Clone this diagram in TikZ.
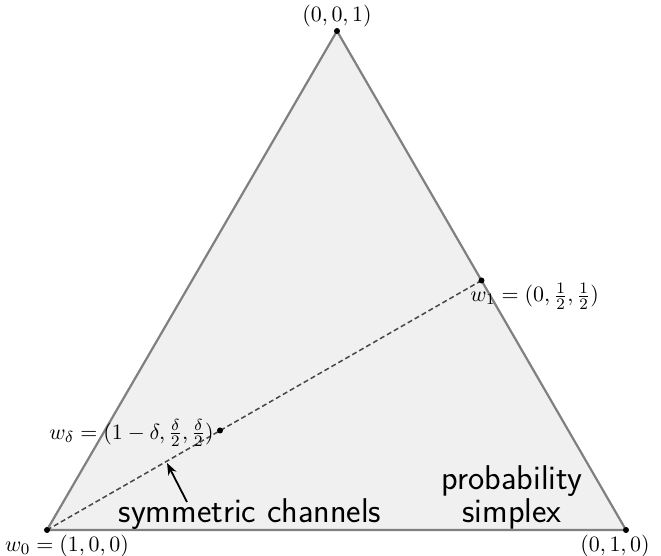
\documentclass[tikz,border=0pt]{standalone}
\usetikzlibrary{arrows.meta}
\begin{document}
\begin{tikzpicture}[x=0.5pt,y=-0.5pt,
  edge/.style={draw=black!50,line width=1.1pt},
  dot/.style={circle,fill=black,inner sep=0pt,minimum size=3pt},
  lab/.style={font=\fontsize{11}{13}\selectfont,inner sep=0pt},
  big/.style={font=\sffamily\fontsize{17.2}{13.5}\selectfont,inner sep=0pt,align=center}]
\useasboundingbox (0,0) rectangle (661,556);
\coordinate (A) at (47,530);
\coordinate (B) at (626,530);
\coordinate (C) at (337,31);
\coordinate (M) at (481.5,280.5);
\coordinate (D) at (220,430.5);
\fill[black!6] (A) -- (B) -- (C) -- cycle;
\draw[edge,line join=round] (A) -- (B) -- (C) -- cycle;
\draw[black!72,line width=0.75pt,dash pattern=on 2.5pt off 1.5pt] (A) -- (M);
\node[dot] (a) at (A) {};
\node[dot] (b) at (B) {};
\node[dot] (c) at (C) {};
\node[dot] (m) at (M) {};
\node[dot] (d) at (D) {};
\node[lab] (lc) at (337,16) {$(0,0,1)$};
\node[lab,anchor=west] (lm) at (470,296) {$w_1=(0,\frac12,\frac12)$};
\node[lab,anchor=east] (ld) at (214,433) {$w_\delta=(1-\delta,\frac{\delta}{2},\frac{\delta}{2})$};
\node[lab] (la) at (67,546) {$w_0=(1,0,0)$};
\node[lab] (lb) at (615,546) {$(0,1,0)$};
\node[big,anchor=base] (sym) at (250,523) {symmetric channels};
\node[big] (prob) at (512,497) {probability\\simplex};
\coordinate (tail) at (187,502);
\coordinate (tip) at (167,463);
\draw[-{Stealth[length=6pt,width=4.5pt]},line width=0.9pt] (tail) -- (tip);
\end{tikzpicture}
\end{document}
